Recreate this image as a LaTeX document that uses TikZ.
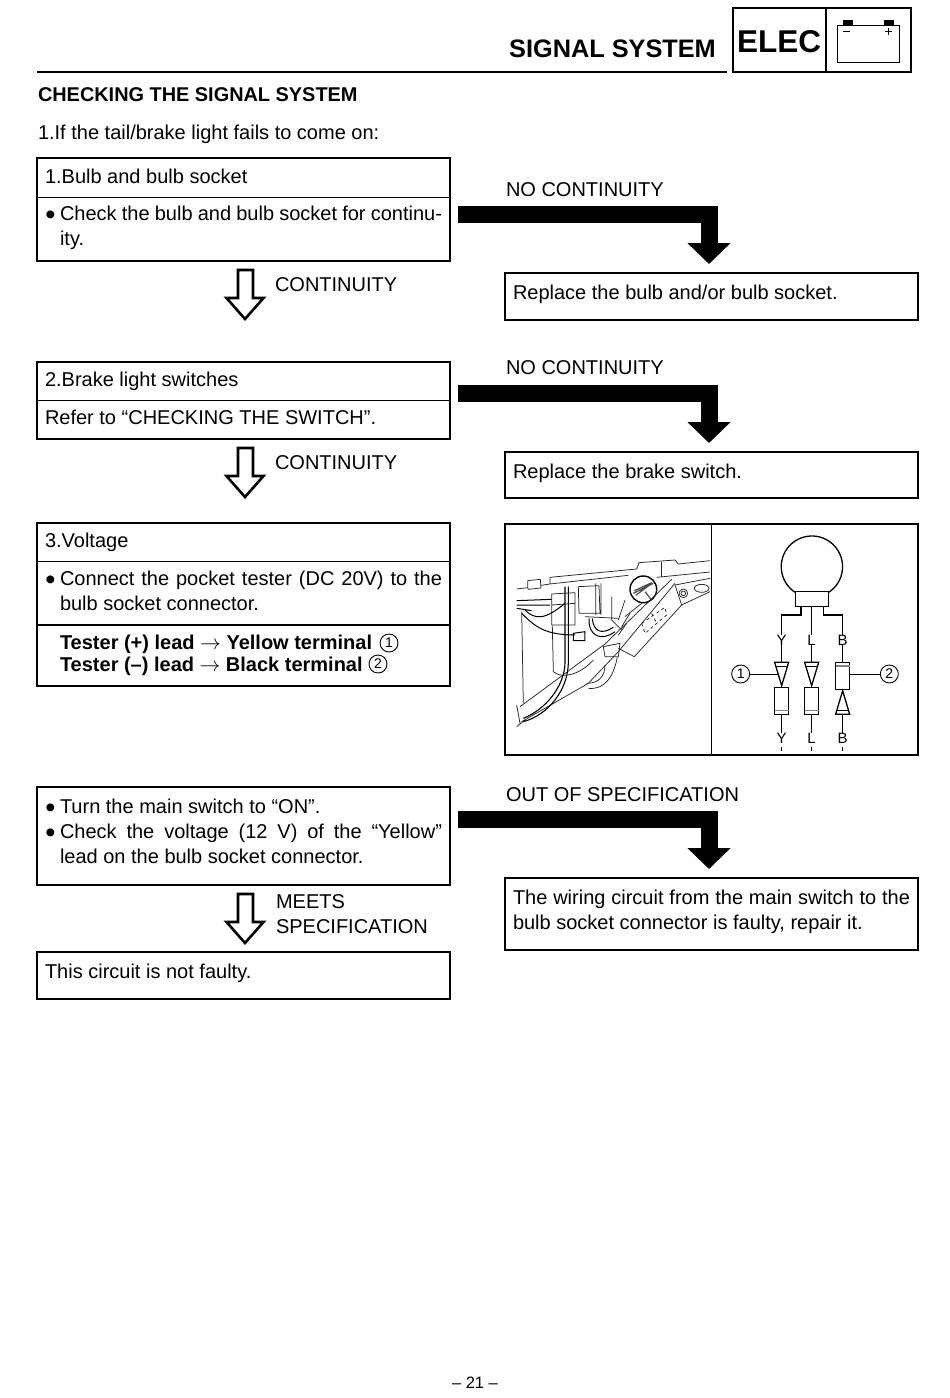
\documentclass[tikz,border=0pt]{standalone}
\usepackage{fontspec}
\setmainfont{Liberation Sans}
\usetikzlibrary{positioning,arrows.meta,calc}
\newcommand{\bul}{\leavevmode\llap{\raisebox{-4.6pt}{\fontsize{29}{25}\selectfont\textbullet}\hspace{4.5pt}}}
\newcommand{\jtext}[2]{\parbox[t]{#1}{#2}}
\begin{document}
\begin{tikzpicture}[
  x=1pt, y=-1pt,
  bigbox/.style={draw, line width=2.6pt, minimum width=413pt, inner sep=0pt, outer sep=0pt},
  txt/.style={anchor=base west, inner sep=0pt, outer sep=0pt, yshift=0.8pt, font=\fontsize{20}{25}\selectfont},
  rule/.style={line width=0.9pt},
  elbow/.style={line width=17pt, -{Triangle[length=21pt,width=42pt]}},
  hollow/.style={line width=2.6pt, fill=white, line join=miter, to path={
    let \p1=(\tikztostart) in
    ($(\x1,\y1)+(-5.5,9)$) -- ($(\x1,\y1)+(9.5,9)$) -- ($(\x1,\y1)+(9.5,37)$) -- ($(\x1,\y1)+(20,37)$) --
    ($(\x1,\y1)+(1.5,58)$) -- ($(\x1,\y1)+(-17,37)$) -- ($(\x1,\y1)+(-5.5,37)$) -- cycle}},
  wire/.style={line width=1.3pt},
  sketch/.style={line width=0.75pt, black!85},
  lbl/.style={inner sep=0pt, font=\fontsize{15}{15}\selectfont},
  num/.style={draw, circle, line width=0.9pt, minimum size=18pt, inner sep=0pt, font=\fontsize{14}{14}\selectfont}
]
\useasboundingbox (0,0) rectangle (950,1398);
% header
\node[anchor=base east, inner sep=0pt, font=\fontsize{25.3}{25.3}\selectfont\bfseries] (title) at (716,57) {SIGNAL SYSTEM};
\draw[line width=2.6pt] (37,72) -- (727,72);
\node[draw, line width=2.6pt, minimum width=178pt, minimum height=64pt, inner sep=0pt, outer sep=0pt] (tab) at (822,40) {};
\draw[line width=2.6pt] (826,8) -- (826,72);
\node[anchor=base west, inner sep=0pt, font=\fontsize{31.5}{31.5}\selectfont\bfseries] (elec) at (737,52) {ELEC};
\node[draw, line width=0.9pt, minimum width=62pt, minimum height=37pt, inner sep=0pt] (batt) at (868,43.5) {};
\fill (843,20) rectangle (853,25);
\fill (884,20) rectangle (894,25);
\draw[line width=1pt] (843,31.5) -- (850,31.5);
\draw[line width=1pt] (885,31.5) -- (892,31.5) (888.5,28) -- (888.5,35);
\node[txt, font=\fontsize{19.9}{25}\selectfont\bfseries] (head) at (38,102) {CHECKING THE SIGNAL SYSTEM};
\node[txt] (intro) at (38,140) {1.If the tail/brake light fails to come on:};
% left column
\node[bigbox, minimum height=103pt] (bulb) at (243.5,209.5) {};
\node[bigbox, minimum height=77pt, below=101pt of bulb] (brake) {};
\node[bigbox, minimum height=163pt, below=84pt of brake] (volt) {};
\node[bigbox, minimum height=98pt, below=101pt of volt] (turn) {};
\node[bigbox, minimum height=47pt, below=67pt of turn] (okay) {};
% right column
\node[bigbox, minimum height=47pt] (rep1) at (711.5,296.5) {};
\node[bigbox, minimum height=46pt, below=132pt of rep1] (rep2) {};
\node[bigbox, minimum height=231pt, below=26pt of rep2] (photo) {};
\node[bigbox, minimum height=72pt, below=123pt of photo] (rep3) {};
% rules in the boxes
\draw[rule] (37,197) -- (450,197);
\draw[rule] (37,400.5) -- (450,400.5);
\draw[rule] (37,561.5) -- (450,561.5);
\draw[line width=2pt] (37,625) -- (450,625);
\draw[rule] (711.5,524) -- (711.5,755);
% box texts
\node[txt] (t1) at (45,184) {1.Bulb and bulb socket};
\node[txt] (t1b) at (60,221) {\jtext{382pt}{\bul Check the bulb and bulb socket for continu-\linebreak ity.}};
\node[txt] (t2) at (45,387) {2.Brake light switches};
\node[txt] (t2b) at (45,425) {Refer to “CHECKING THE SWITCH”.};
\node[txt] (t3) at (45,548) {3.Voltage};
\node[txt] (t3b) at (60,586) {\jtext{382pt}{\bul Connect the pocket tester (DC 20V) to the\linebreak bulb socket connector.}};
\node[txt, font=\fontsize{20}{22}\selectfont\bfseries] (t3c) at (60,650) {\jtext{382pt}{Tester (+) lead $\rightarrow$ Yellow terminal\\Tester (–) lead $\rightarrow$ Black terminal}};
\node[num] (n1) at (389,643) {1};
\node[num] (n2) at (378,664) {2};
\node[txt] (t4) at (60,814) {\jtext{382pt}{\bul Turn the main switch to “ON”.\par\bul Check the voltage (12 V) of the “Yellow”\linebreak lead on the bulb socket connector.}};
\node[txt] (t5) at (45,979) {This circuit is not faulty.};
\node[txt] (r1) at (513,300) {Replace the bulb and/or bulb socket.};
\node[txt] (r2) at (513,479) {Replace the brake switch.};
\node[txt] (r3) at (513,905) {\jtext{397pt}{The wiring circuit from the main switch to the\linebreak bulb socket connector is faulty, repair it.}};
% arrow labels
\node[txt] (no1) at (506,197) {NO CONTINUITY};
\node[txt] (no2) at (506,375) {NO CONTINUITY};
\node[txt] (out) at (506,802) {OUT OF SPECIFICATION};
\node[txt] (yes1) at (275,292) {CONTINUITY};
\node[txt] (yes2) at (275,470) {CONTINUITY};
\node[txt] (meets) at (276,909) {\jtext{180pt}{MEETS\\SPECIFICATION}};
% arrows
\draw[elbow] ($(bulb.east)+(8,5)$) -| ($(rep1.north)+(-2.5,-9)$);
\draw[elbow] ($(brake.east)+(8,-7)$) -| ($(rep2.north)+(-2.5,-9)$);
\draw[elbow] ($(turn.east)+(8,-16.5)$) -| ($(rep3.north)+(-2.5,-9)$);
\draw[hollow] (bulb.south) to (brake.north);
\draw[hollow] (brake.south) to (volt.north);
\draw[hollow] (turn.south) to (okay.north);
% motorcycle frame sketch
\begin{scope}[shift={(505,520)}, x=0.3333pt, y=-0.3333pt]
  \draw[sketch] (35,207) -- (68,203) (108,196) -- (135,192) (135,192) -- (135,172) -- (395,147) (135,192) -- (370,166);
  \draw[sketch] (68,203) -- (68,182) -- (106,178) -- (108,204) -- (70,208) -- cycle;
  \draw[sketch] (395,148) -- (402,128) -- (510,120) -- (520,132) -- (615,122) (455,172) -- (615,156);
  \draw[sketch] (470,125) -- (470,170);
  \draw[line width=1.4pt] (415,208) circle (40);
  \draw[line width=1.2pt, black!70] (385,220) -- (445,190) (388,212) -- (440,188) (392,226) -- (430,198) (420,215) -- (440,240);
  \draw[sketch] (45,560) -- (300,372) -- (500,178);
  \draw[sketch] (50,605) -- (250,490) -- (340,395) -- (510,190);
  \draw[sketch] (35,555) -- (45,610) (35,620) -- (60,600);
  \draw[sketch] (510,195) -- (615,175) (510,195) -- (530,255) -- (388,410) -- (340,385) (530,255) -- (615,215);
  \draw[sketch] (535,220) circle (13) (535,220) circle (7);
  \draw[sketch] (590,205) ellipse (22 and 12);
  \draw[sketch, dashed] (410,310) -- (480,262) -- (485,285) -- (420,340) -- cycle (440,280) -- (455,310);
  \draw[line width=1.1pt] (180,200) -- (180,430) .. controls (178,500) and (120,570) .. (55,595);
  \draw[line width=1.1pt] (190,200) -- (190,430) .. controls (188,510) and (130,585) .. (55,605);
  \draw[sketch] (140,222) -- (210,218) -- (210,315) -- (140,315) -- cycle (140,255) -- (210,250);
  \draw[sketch] (220,200) -- (282,197) -- (285,280) -- (222,280) -- cycle (272,190) -- (272,285) (288,190) -- (288,285);
  \draw[line width=1pt] (252,295) .. controls (250,350) and (290,365) .. (330,335) (262,295) .. controls (265,335) and (290,345) .. (325,322);
  \draw[sketch] (142,318) -- (145,455) .. controls (165,475) and (220,470) .. (265,420);
  \draw[sketch] (245,490) .. controls (280,490) and (300,470) .. (300,435) (250,505) .. controls (300,510) and (325,470) .. (337,412);
  \draw[line width=1pt] (35,242) -- (140,238) (35,255) -- (135,255) (35,265) -- (80,272);
  \draw[line width=1pt] (60,270) .. controls (90,300) and (120,300) .. (180,250);
  \draw[line width=1pt] (50,280) .. controls (90,320) and (120,345) .. (210,345) (205,340) -- (240,335) -- (240,362) -- (205,362) -- cycle;
  \draw[sketch] (50,275) -- (55,550);
  \draw[sketch] (240,290) -- (340,295) (320,230) -- (320,300) -- (350,330) (360,290) -- (410,250) (295,380) -- (345,370) -- (340,410) -- (300,410) -- cycle;
  \draw[sketch] (350,320) -- (375,280) (340,345) -- (365,310) (360,240) -- (340,300);
\end{scope}
% bulb circuit
\begin{scope}[shift={(710,520)}, x=0.3333pt, y=-0.3333pt]
  \draw[wire] (257,218) arc[start angle=122, end angle=418, radius=92];
  \node[draw, line width=1.3pt, minimum width=32.7pt, minimum height=15pt, inner sep=0pt] (base) at (306,238) {};
  \node[lbl] (y1) at (215,360) {Y};
  \node[lbl] (l1) at (305,360) {L};
  \node[lbl] (b1) at (398,360) {B};
  \node[lbl] (y2) at (215,655) {Y};
  \node[lbl] (l2) at (305,655) {L};
  \node[lbl] (b2) at (398,655) {B};
  \draw[wire] (273,260) -- (273,285) -- (215,285) -- (y1.north);
  \draw[wire] (305,260) -- (l1.north);
  \draw[wire] (340,260) -- (340,285) -- (398,285) -- (b1.north);
  % Y and L plugs
  \foreach \xx/\nn in {215/y,305/l}{
    \draw[wire] (\nn1.south) -- (\xx,427);
    \draw[wire] (\xx-21,427) -- (\xx+21,427) -- (\xx,497) -- cycle;
    \draw[rule] (\xx-18,438) -- (\xx+18,438);
    \draw[wire] (\xx-21,503) rectangle (\xx+21,583);
    \draw[line width=1.1pt, black!50] (\xx-21,571) -- (\xx+21,571);
    \draw[wire] (\xx,583) -- (\nn2.north);
    \draw[line width=1pt] (\xx,680) -- (\xx,692);
  }
  % B plug
  \draw[wire] (b1.south) -- (398,427);
  \draw[wire] (377,427) rectangle (419,508);
  \draw[line width=1.1pt, black!50] (377,438) -- (419,438);
  \draw[wire] (398,512) -- (419,583) -- (377,583) -- cycle;
  \draw[rule] (381,571) -- (415,571);
  \draw[wire] (398,583) -- (b2.north);
  \draw[line width=1pt] (398,680) -- (398,692);
  \node[num] (one) at (92,462) {1};
  \node[num] (two) at (538,462) {2};
  \draw[rule] (one) -- (204,462);
  \draw[rule] (419,462) -- (two);
\end{scope}
% page number
\node[anchor=base, inner sep=0pt, font=\fontsize{16.5}{16.5}\selectfont] (page) at (475,1388) {– 21 –};
\end{tikzpicture}
\end{document}
